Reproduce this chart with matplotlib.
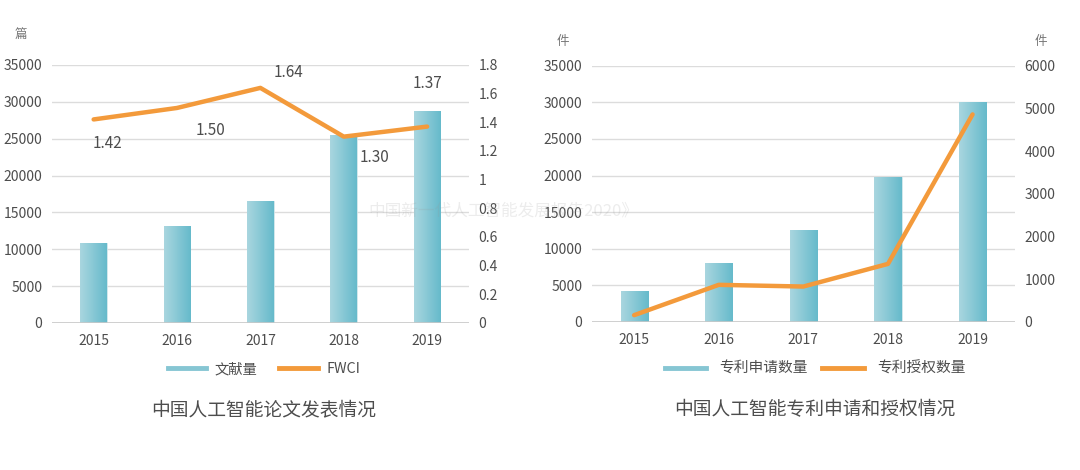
import matplotlib
matplotlib.use("Agg")

import matplotlib.pyplot as plt
import numpy as np
from matplotlib.colors import LinearSegmentedColormap
from matplotlib.lines import Line2D

plt.rcParams['font.family'] = ['Noto Sans CJK SC', 'DejaVu Sans']

years = ["2015", "2016", "2017", "2018", "2019"]

paper_counts = [10900, 13100, 16500, 25500, 28700]
fwci = [1.42, 1.50, 1.64, 1.30, 1.37]
fwci_labels = ["1.42", "1.50", "1.64", "1.30", "1.37"]

patent_applied = [4300, 8000, 12600, 19800, 30100]
patent_granted = [160, 870, 830, 1360, 4860]

left_ticks = [0, 5000, 10000, 15000, 20000, 25000, 30000, 35000]
fwci_ticks = [0, 0.2, 0.4, 0.6, 0.8, 1.0, 1.2, 1.4, 1.6, 1.8]
fwci_tick_labels = ["0", "0.2", "0.4", "0.6", "0.8", "1", "1.2", "1.4", "1.6", "1.8"]
granted_ticks = [0, 1000, 2000, 3000, 4000, 5000, 6000]

text_gray = "#4d4d4d"
grid_gray = "#dcdcdc"
orange = "#f39a3b"
teal_cmap = LinearSegmentedColormap.from_list("teal", ["#a9d6df", "#66bacb"])


def draw_bars(ax, values):
    x = np.arange(len(values))
    bars = ax.bar(x, values, width=0.32, color="none", edgecolor="#c9e3e8", linewidth=0.6, zorder=2)
    gradient = np.linspace(0, 1, 64).reshape(1, -1)
    for bar in bars:
        x0 = bar.get_x()
        x1 = x0 + bar.get_width()
        img = ax.imshow(gradient, extent=[x0, x1, 0, bar.get_height()], aspect="auto",
                        cmap=teal_cmap, zorder=2, origin="lower")
        img.set_clip_path(bar)
    ax.set_xlim(-0.5, len(values) - 0.5)


def style_axes(ax, ax2):
    for a in (ax, ax2):
        for side in ("top", "right", "left", "bottom"):
            a.spines[side].set_visible(False)
        a.tick_params(length=0, labelsize=10, colors=text_gray)
    ax.yaxis.grid(True, color=grid_gray, linewidth=1.0, zorder=0)
    ax.set_axisbelow(True)
    ax.axhline(0, color="#c8c8c8", linewidth=1.2, zorder=3)
    ax.tick_params(axis="x", pad=8)
    ax.tick_params(axis="y", pad=7)
    ax2.tick_params(axis="y", pad=7)


fig = plt.figure(figsize=(10.8, 4.7), dpi=100)

# left chart: papers + FWCI
ax1 = fig.add_axes([0.0481, 0.3128, 0.386, 0.549])
draw_bars(ax1, paper_counts)
ax1.set_ylim(0, 35000)
ax1.set_yticks(left_ticks)
ax1.set_xticks(range(len(years)))
ax1.set_xticklabels(years)

ax1b = ax1.twinx()
ax1b.plot(range(len(years)), fwci, color=orange, linewidth=3.2, solid_capstyle="round", zorder=4)
ax1b.set_ylim(0, 1.8)
ax1b.set_yticks(fwci_ticks)
ax1b.set_yticklabels(fwci_tick_labels)
style_axes(ax1, ax1b)

label_offsets = [(10, -17), (24, -16), (20, 11), (22, -15), (0, 31)]
for i, (val, txt) in enumerate(zip(fwci, fwci_labels)):
    ax1b.annotate(txt, (i, val), xytext=label_offsets[i], textcoords="offset points",
                  ha="center", va="center", fontsize=11, color=text_gray, zorder=5)

fig.text(21 / 1080, 1 - 34 / 470, "篇", ha="center", va="center", fontsize=9, color="#777777")

# right chart: patents
ax2 = fig.add_axes([0.548, 0.3149, 0.3917, 0.5453])
draw_bars(ax2, patent_applied)
ax2.set_ylim(0, 35000)
ax2.set_yticks(left_ticks)
ax2.set_xticks(range(len(years)))
ax2.set_xticklabels(years)

ax2b = ax2.twinx()
ax2b.plot(range(len(years)), patent_granted, color=orange, linewidth=3.2, solid_capstyle="round", zorder=4)
ax2b.set_ylim(0, 6000)
ax2b.set_yticks(granted_ticks)
style_axes(ax2, ax2b)

fig.text(563 / 1080, 1 - 42 / 470, "件", ha="center", va="center", fontsize=9, color="#777777")
fig.text(1041 / 1080, 1 - 42 / 470, "件", ha="center", va="center", fontsize=9, color="#777777")

# legends
teal_handle = Line2D([0], [0], color="#86c6d3", linewidth=3.5)
orange_handle = Line2D([0], [0], color=orange, linewidth=3.5)

fig.legend([teal_handle, orange_handle], ["文献量", "FWCI"], loc="center",
           bbox_to_anchor=(264 / 1080, 1 - 369 / 470), ncol=2, frameon=False,
           fontsize=10.3, handlelength=2.7, handletextpad=0.6, columnspacing=1.5,
           labelcolor=text_gray)
fig.legend([teal_handle, orange_handle], ["专利申请数量", "专利授权数量"], loc="center",
           bbox_to_anchor=(815 / 1080, 1 - 369 / 470), ncol=2, frameon=False,
           fontsize=10.6, handlelength=2.8, handletextpad=0.9, columnspacing=1.0,
           labelcolor=text_gray)

# titles
fig.text(264 / 1080, 1 - 410 / 470, "中国人工智能论文发表情况", ha="center", va="center",
         fontsize=13.5, color=text_gray)
fig.text(815 / 1080, 1 - 410 / 470, "中国人工智能专利申请和授权情况", ha="center", va="center",
         fontsize=13.5, color=text_gray)

# faint watermark
fig.text(368 / 1080, 1 - 211 / 470, "中国新一代人工智能发展报告2020》", ha="left", va="center",
         fontsize=12, color="#999999", alpha=0.18, zorder=10)

plt.savefig("out.png", dpi=100)
plt.close(fig)
